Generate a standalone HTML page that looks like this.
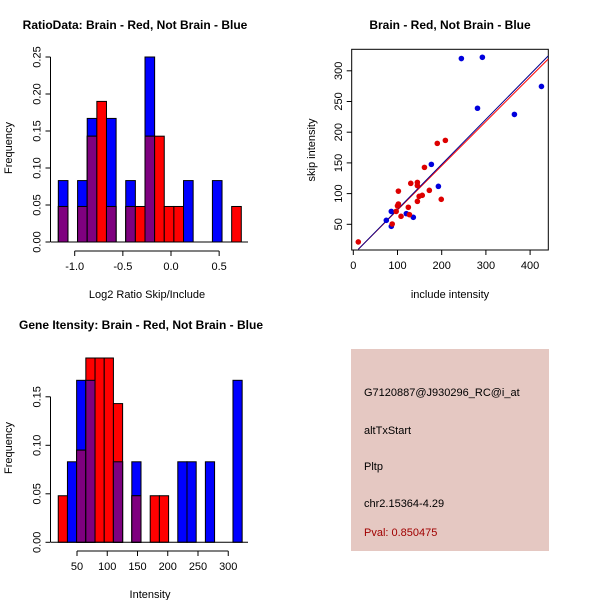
<!DOCTYPE html>
<html><head><meta charset="utf-8"><style>
body{margin:0;background:#fff}
svg{display:block}
text{font-family:"Liberation Sans",sans-serif;fill:#000}
</style></head><body>
<svg id="c" width="600" height="600" xmlns="http://www.w3.org/2000/svg">
<text x="135" y="29" font-size="12" font-weight="bold" text-anchor="middle">RatioData: Brain - Red, Not Brain - Blue</text>
<text x="450" y="29" font-size="12" font-weight="bold" text-anchor="middle">Brain - Red, Not Brain - Blue</text>
<text x="141" y="329" font-size="12" font-weight="bold" text-anchor="middle">Gene Itensity: Brain - Red, Not Brain - Blue</text>
<text x="147" y="298" font-size="11" text-anchor="middle">Log2 Ratio Skip/Include</text>
<text x="450" y="298" font-size="11" text-anchor="middle">include intensity</text>
<text x="150" y="598" font-size="11" text-anchor="middle">Intensity</text>
<text transform="translate(12,148) rotate(-90)" font-size="11" text-anchor="middle">Frequency</text>
<text transform="translate(315,150) rotate(-90)" font-size="11" text-anchor="middle">skip intensity</text>
<text transform="translate(12,448) rotate(-90)" font-size="11" text-anchor="middle">Frequency</text>
<g>
<rect x="351" y="349" width="198" height="202" fill="#e5c8c2"/>
<text x="364" y="396" font-size="11">G7120887@J930296_RC@i_at</text>
<text x="364" y="434" font-size="11">altTxStart</text>
<text x="364" y="470" font-size="11">Pltp</text>
<text x="364" y="507" font-size="11">chr2.15364-4.29</text>
<text x="364" y="536" font-size="11" style="fill:#a00000">Pval: 0.850475</text>
</g>
</svg>
<script>
// Ratio histogram data (bins of 0.1 starting at -1.17)
const ratioBlue=[0.083,0,0.083,0.167,0,0.167,0,0.083,0,0.25,0,0,0,0.083,0,0,0.083,0,0];
const ratioRed=[0.048,0,0.048,0.143,0.19,0.048,0,0.048,0.048,0.143,0.143,0.048,0.048,0,0,0,0,0,0.048];
const ratioXTicks=[-1.0,-0.5,0.0,0.5];
const ratioXLabels=["-1.0","-0.5","0.0","0.5"];
const ratioYTicks=[0,0.05,0.10,0.15,0.20,0.25];
const ratioYLabels=["0.00","0.05","0.10","0.15","0.20","0.25"];
// Intensity histogram data (bins of 15.2 starting at 19)
const intBlue=[0,0.083,0.167,0.167,0,0,0.083,0,0.083,0,0,0,0,0.083,0.083,0,0.083,0,0,0.167];
const intRed=[0.048,0,0.095,0.19,0.19,0.19,0.143,0,0.048,0,0.048,0.048,0,0,0,0,0,0,0,0];
const intXTicks=[50,100,150,200,250,300];
const intYTicks=[0,0.05,0.10,0.15];
const intYLabels=["0.00","0.05","0.10","0.15"];
// Scatter data
const blueX=[244.5,292,425.7,281,364.5,176.6,192.5,120,135.8,86,74.7,86];
const blueY=[320,322,274.5,239,229,147.6,111.8,67.4,61.4,71,56.5,46.7];
const redX=[11.3,190,208.3,161,130,145,145,102,172,156,149,145,199,102,100,124.5,97,127,108,88];
const redY=[21.3,181.8,186.7,142.7,116.7,118.3,113,104,105.3,97.2,95.6,87.4,90.7,83,80,77.7,71,65.7,63,50.5];
const blueFit=[9.3,0.733]; // intercept at x=11.3, slope
const redFit=[9.3,0.721];
const scXTicks=[0,100,200,300,400];
const scYTicks=[50,100,150,200,250,300];

const svg=document.getElementById('c');
const NS='http://www.w3.org/2000/svg';
function mk(tag,attrs,parent){const e=document.createElementNS(NS,tag);for(const k in attrs)e.setAttribute(k,attrs[k]);(parent||svg).appendChild(e);return e;}

function hist(cfg){
  const g=mk('g',{});
  
  
  const sx=v=>cfg.x0+(v-cfg.xv0)*cfg.xs, sy=v=>cfg.y0-v*cfg.ys;
  const n=Math.max(cfg.blue.length,cfg.red.length);
  for(let k=0;k<n;k++){
    const l=sx(cfg.start+k*cfg.w), r=sx(cfg.start+(k+1)*cfg.w);
    const b=cfg.blue[k]||0, d=cfg.red[k]||0, m=Math.min(b,d);
    if(b>0){const e=mk('rect',{x:l,y:sy(b),width:r-l,height:sy(0)-sy(b),fill:'#0000ff',stroke:'#000','stroke-width':1},g);
      
      }
    if(d>0){const e=mk('rect',{x:l,y:sy(d),width:r-l,height:sy(0)-sy(d),fill:'#ff0000',stroke:'#000','stroke-width':1},g);
      
      }
    if(m>0){const e=mk('rect',{x:l,y:sy(m),width:r-l,height:sy(0)-sy(m),fill:'#7f007f',stroke:'#000','stroke-width':1},g);
      
      }
  }
  mk('line',{x1:51,x2:248,y1:sy(0),y2:sy(0),stroke:'#000'},g);
  // y axis
  const yt=cfg.yTicks;
  mk('line',{x1:cfg.x0y,x2:cfg.x0y,y1:sy(yt[0]),y2:sy(yt[yt.length-1]),stroke:'#000'},g);
  yt.forEach((t,i)=>{mk('line',{x1:cfg.x0y-5,x2:cfg.x0y,y1:sy(t),y2:sy(t),stroke:'#000'},g);
    const tx=mk('text',{transform:`translate(${cfg.x0y-10},${sy(t)}) rotate(-90)`,'font-size':11,'text-anchor':'middle'},g);tx.textContent=cfg.yLabels[i];});
  const xt=cfg.xTicks;
  mk('line',{x1:sx(xt[0]),x2:sx(xt[xt.length-1]),y1:cfg.xAxisY,y2:cfg.xAxisY,stroke:'#000'},g);
  xt.forEach((t,i)=>{mk('line',{x1:sx(t),x2:sx(t),y1:cfg.xAxisY,y2:cfg.xAxisY+5,stroke:'#000'},g);
    const tx=mk('text',{x:sx(t),y:cfg.xAxisY+19,'font-size':11,'text-anchor':'middle'},g);tx.textContent=cfg.xLabels[i];});
}
hist({name:'ratio-histogram',blue:ratioBlue,red:ratioRed,start:-1.17,w:0.1,x0:74.7,xv0:-1,xs:96.3,y0:242,ys:740,x0y:50.5,
  yTicks:ratioYTicks,yLabels:ratioYLabels,xTicks:ratioXTicks,xLabels:ratioXLabels,xAxisY:251});
hist({name:'intensity-histogram',blue:intBlue,red:intRed,start:19,w:15.2,x0:77,xv0:50,xs:0.605,y0:542.3,ys:970,x0y:50.5,
  yTicks:intYTicks,yLabels:intYLabels,xTicks:intXTicks,xLabels:intXTicks.map(String),xAxisY:551});

// scatter
(function(){
  const g=mk('g',{});
  
  
  const sx=v=>353.3+v*0.442, sy=v=>224.3-(v-50)*0.614;
  mk('rect',{x:351.7,y:49.3,width:196.6,height:200.7,fill:'none',stroke:'#000'},g);
  scXTicks.forEach(t=>{mk('line',{x1:sx(t),x2:sx(t),y1:250,y2:255,stroke:'#000'},g);
    const tx=mk('text',{x:sx(t),y:269,'font-size':11,'text-anchor':'middle'},g);tx.textContent=t;});
  scYTicks.forEach(t=>{mk('line',{x1:346.7,x2:351.7,y1:sy(t),y2:sy(t),stroke:'#000'},g);
    const tx=mk('text',{transform:`translate(342,${sy(t)}) rotate(-90)`,'font-size':11,'text-anchor':'middle'},g);tx.textContent=t;});
  const x1=11.3,x2=440.8;
  [[redFit,'#ff0000','red-fit-line'],[blueFit,'#00008b','blue-fit-line']].forEach(([f,c,n])=>{
    const l=mk('line',{x1:sx(x1),y1:sy(f[0]),x2:sx(x2),y2:sy(f[0]+f[1]*(x2-x1)),stroke:c,'stroke-width':1},g);
    
    
  });
  blueX.forEach((v,i)=>{const p=mk('circle',{cx:sx(v),cy:sy(blueY[i]),r:2.8,fill:'#0000dd'},g);
    
    });
  redX.forEach((v,i)=>{const p=mk('circle',{cx:sx(v),cy:sy(redY[i]),r:2.8,fill:'#dd0000'},g);
    
    });
})();
</script>
</body></html>
